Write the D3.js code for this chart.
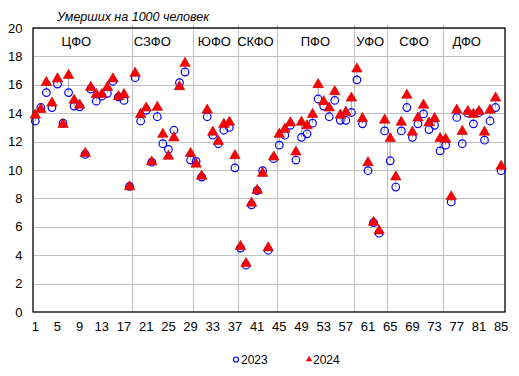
<!DOCTYPE html>
<html>
<head>
	<meta charset="utf-8">
	<script src="https://d3js.org/d3.v7.min.js"></script>
	<style>
		body { margin: 0; background: #fff; }
		text { font-family: "Liberation Sans", Arial, sans-serif; }
	</style>
</head>
<body>
<script>
	// deaths per 1000, regions 1..85
	var v2023 = [13.45, 14.4, 15.45, 14.4, 16.05, 13.3, 15.45, 14.5, 14.45, 11.1,
		15.7, 14.85, 15.2, 15.4, 16.25, 15.15, 14.9, 8.85, 16.5, 13.45,
		14.2, 10.55, 13.75, 11.85, 11.45, 12.8, 16.15, 16.9, 10.7, 10.6,
		9.5, 13.75, 12.45, 11.85, 12.8, 13.0, 10.15, 4.5, 3.3, 7.55,
		8.55, 9.95, 4.35, 10.8, 11.75, 12.45, 13.15, 10.7, 12.3, 12.55,
		13.3, 15.0, 14.5, 13.75, 14.9, 13.5, 13.5, 14.05, 16.35, 13.25,
		9.95, 6.3, 5.55, 12.75, 10.65, 8.8, 12.75, 14.4, 12.3, 13.25,
		13.95, 12.85, 13.15, 11.35, 11.75, 7.75, 13.7, 11.85, 14.0, 13.25,
		14.05, 12.1, 13.45, 14.4, 9.95];
	var v2024 = [13.9, 14.3, 16.2, 14.75, 16.45, 13.25, 16.7, 14.95, 14.6, 11.2,
		15.85, 15.35, 15.35, 15.85, 16.45, 15.2, 15.35, 8.85, 16.85, 13.95,
		14.4, 10.6, 14.45, 12.55, 11.0, 12.3, 15.9, 17.55, 11.2, 10.45,
		9.6, 14.25, 12.7, 12.05, 13.25, 13.4, 11.05, 4.65, 3.45, 7.7,
		8.6, 9.8, 4.55, 10.95, 12.55, 12.9, 13.35, 11.3, 13.4, 13.15,
		13.95, 16.05, 14.85, 14.4, 15.55, 13.9, 14.1, 15.1, 17.15, 13.65,
		10.55, 6.35, 5.75, 13.55, 12.25, 9.55, 13.4, 15.3, 12.7, 13.7,
		14.6, 13.35, 13.65, 12.25, 12.2, 8.15, 14.25, 12.75, 14.15, 13.95,
		14.15, 12.7, 14.25, 15.1, 10.3];

	// federal districts: name, first and last region, label position (region units)
	var districts = ["ЦФО", "СЗФО", "ЮФО", "СКФО", "ПФО", "УФО", "СФО", "ДФО"];
	var distStart = [1, 19, 30, 38, 45, 59, 65, 75];
	var distEnd = [18, 29, 37, 44, 58, 64, 74, 85];
	var distLabelAt = [8.4, 22.1, 33.3, 40.7, 51.5, 61.4, 69.3, 78.8];

	var yTicks = [0, 2, 4, 6, 8, 10, 12, 14, 16, 18, 20];
	var xTicks = d3.range(1, 86, 4);
	var legendYears = ["2023", "2024"];

	var width = 519, height = 376;
	// plot box (note: "top" is reserved on window)
	var pL = 33, pR = 505, pT = 28, pB = 312;

	var svg = d3.select("body").append("svg")
		.attr("width", width)
		.attr("height", height);

	var x = d3.scaleLinear().domain([0.585, 85.7]).range([pL, pR]);
	var y = d3.scaleLinear().domain([0, 20]).range([pB, pT]);

	// horizontal grid
	svg.append("g").selectAll("line")
		.data(yTicks.slice(1))
		.enter().append("line")
		.attr("x1", pL).attr("x2", pR)
		.attr("y1", function(d) { return Math.round(y(d)) + 0.5; })
		.attr("y2", function(d) { return Math.round(y(d)) + 0.5; })
		.attr("stroke", "#c0c0c0")
		.attr("stroke-width", 1);

	// district separators
	svg.append("g").selectAll("line")
		.data(distEnd.slice(0, -1))
		.enter().append("line")
		.attr("x1", function(d) { return Math.round(x(d + 0.5)) + 0.5; })
		.attr("x2", function(d) { return Math.round(x(d + 0.5)) + 0.5; })
		.attr("y1", y(0)).attr("y2", pT - 3)
		.attr("stroke", "#c0c0c0")
		.attr("stroke-width", 1);

	// frame
	svg.append("rect")
		.attr("x", pL).attr("y", pT)
		.attr("width", pR - pL).attr("height", pB - pT)
		.attr("fill", "none")
		.attr("stroke", "#000")
		.attr("stroke-width", 1.3);

	// y axis labels
	svg.append("g").selectAll("text")
		.data(yTicks)
		.enter().append("text")
		.attr("x", 22.5)
		.attr("y", function(d) { return y(d) + 4.5; })
		.attr("text-anchor", "end")
		.attr("font-size", 13)
		.text(function(d) { return d; });

	// x axis labels
	svg.append("g").selectAll("text")
		.data(xTicks)
		.enter().append("text")
		.attr("x", function(d) { return x(d); })
		.attr("y", 331)
		.attr("text-anchor", "middle")
		.attr("font-size", 13)
		.text(function(d) { return d; });

	// district names
	svg.append("g").selectAll("text")
		.data(districts)
		.enter().append("text")
		.attr("x", function(d, i) { return x(distLabelAt[i]); })
		.attr("y", 46)
		.attr("text-anchor", "middle")
		.attr("font-size", 13)
		.text(function(d) { return d; });

	// title
	svg.append("text")
		.attr("x", 57).attr("y", 21)
		.attr("font-size", 12.5)
		.attr("font-style", "italic")
		.text("Умерших на 1000 человек");

	var idx = d3.range(v2023.length);

	// change lines between years
	svg.append("g").selectAll("line")
		.data(idx)
		.enter().append("line")
		.attr("x1", function(i) { return x(i + 1); })
		.attr("x2", function(i) { return x(i + 1); })
		.attr("y1", function(i) { return y(v2023[i]); })
		.attr("y2", function(i) { return y(v2024[i]); })
		.attr("stroke", "#a0a0a0")
		.attr("stroke-width", 1);

	var tri = d3.symbol().type(d3.symbolTriangle).size(48);

	// 2023 circles
	svg.append("g").selectAll("circle")
		.data(idx)
		.enter().append("circle")
		.attr("cx", function(i) { return x(i + 1); })
		.attr("cy", function(i) { return y(v2023[i]); })
		.attr("r", 3.8)
		.attr("fill", "none")
		.attr("stroke", "#0000ff")
		.attr("stroke-width", 1.2);

	// 2024 triangles
	svg.append("g").selectAll("path")
		.data(idx)
		.enter().append("path")
		.attr("d", tri)
		.attr("transform", function(i) { return "translate(" + x(i + 1) + "," + (y(v2024[i]) + 0.5) + ")"; })
		.attr("fill", "#ff0000")
		.attr("stroke", "#c00000")
		.attr("stroke-width", 0.6);

	// legend
	var leg = svg.append("g");
	leg.append("circle")
		.attr("cx", 236).attr("cy", 359.5).attr("r", 2.5)
		.attr("fill", "none").attr("stroke", "#0000ff").attr("stroke-width", 1.2);
	leg.append("text")
		.attr("x", 241).attr("y", 364).attr("font-size", 12)
		.text(legendYears[0]);
	leg.append("path")
		.attr("d", d3.symbol().type(d3.symbolTriangle).size(18))
		.attr("transform", "translate(309,359.5)")
		.attr("fill", "#ff0000");
	leg.append("text")
		.attr("x", 313).attr("y", 364).attr("font-size", 12)
		.text(legendYears[1]);
</script>
</body>
</html>
